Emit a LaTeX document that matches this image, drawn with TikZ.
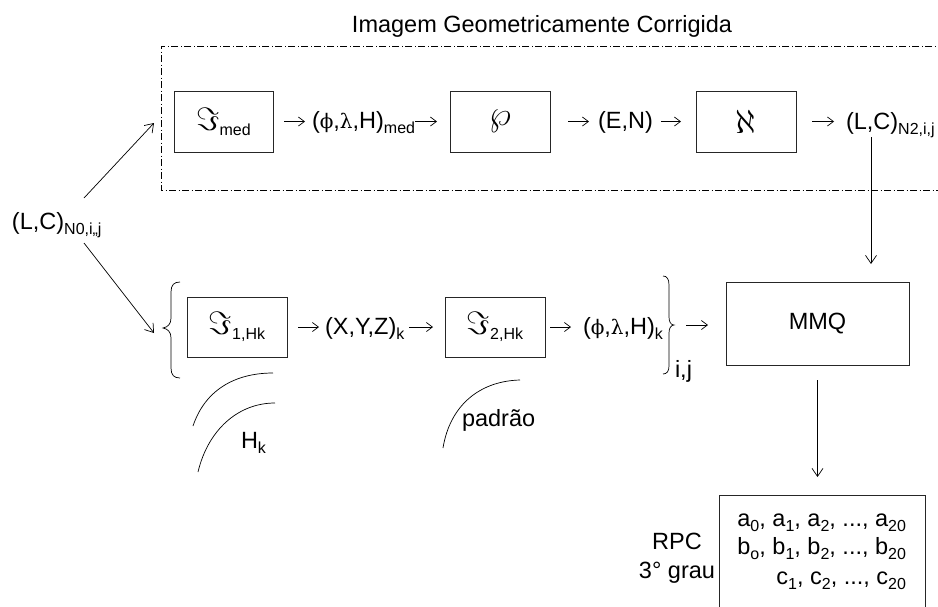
\documentclass[tikz,border=0pt]{standalone}
\usepackage{graphicx}
\usepackage{fontspec}
\setmainfont{Liberation Sans}
\newfontfamily\grkfont{DejaVu Serif}
\usetikzlibrary{arrows.meta}
\newcommand{\sbs}[1]{\raisebox{-5pt}{\fontsize{16}{16}\selectfont #1}}
\newcommand{\phig}{{\grkfont\fontsize{20}{24}\selectfont ϕ}}
\newcommand{\lamg}{{\grkfont\fontsize{20}{24}\selectfont λ}}
\newcommand{\bigIm}{\scalebox{1.3}{$\Im$}}
\newcommand{\bigwp}{\scalebox{1.4}{$\wp$}}
\newcommand{\bigaleph}{\scalebox{1.35}{$\aleph$}}
\begin{document}
\begin{tikzpicture}[x=1pt,y=-1pt,
  every node/.style={font=\fontsize{23.5}{28}\selectfont, inner sep=0pt, outer sep=0pt},
  bx/.style={draw=black!85, line width=0.9pt, minimum width=100pt, minimum height=61pt},
  tarr/.style={line width=0.7pt, -{Straight Barb[length=6pt,width=9pt]}},
  arr/.style={line width=0.7pt, -{Straight Barb[length=8pt,width=11pt]}},
  thin/.style={line width=0.7pt},
  lbl/.style={anchor=base west},
  dd/.style={line width=0.8pt, dash pattern=on 7pt off 2.5pt on 1pt off 2.5pt}]
\useasboundingbox (0,0) rectangle (938,606);

\node[anchor=base] (title) at (542,32) {Imagem Geometricamente Corrigida};
\draw[dd] (945,46) -- (161,46) -- (161,190) -- (945,190);

% top row
\node[bx, minimum width=99pt] (imed) at (223.5,121.5) {\bigIm\sbs{med}};
\node[lbl] (phimed) at (312,128.5) {(\phig,\lamg,H)\sbs{med}};
\node[bx] (wp) at (500,121.5) {\bigwp};
\node[lbl] (en) at (598,128.5) {(E,N)};
\node[bx] (al) at (746,121.5) {\bigaleph};
\node[lbl] (lc2) at (846,129.5) {(L,C)\sbs{N2,i,j}};

\draw[tarr, shorten <=11pt, shorten >=7pt] (imed.east) -- (phimed.west |- imed.east);
\draw[tarr, shorten >=13pt] (phimed.east |- wp.west) -- (wp.west);
\draw[tarr, shorten <=18pt, shorten >=9pt] (wp.east) -- (en.west |- wp.east);
\draw[tarr, shorten <=8pt, shorten >=15pt] (en.east |- al.west) -- (al.west);
\draw[tarr, shorten <=16pt, shorten >=12pt] (al.east) -- (lc2.west |- al.east);

\coordinate (vt) at (871,137);
\coordinate (vb) at (871,264);
\draw[arr] (vt) -- (vb);

% left input
\node[lbl] (lc0) at (12,229) {(L,C)\sbs{N0,i,,j}};
\coordinate (u1) at (84,198); \coordinate (u2) at (154,123);
\coordinate (d1) at (84,243); \coordinate (d2) at (154,333);
\draw[arr] (u1) -- (u2);
\draw[arr] (d1) -- (d2);

% left brace
\draw[thin] (180,282) .. controls (174,282) and (171,285) .. (171,292) -- (171,318)
  .. controls (171,324) and (168,327) .. (163,328)
  .. controls (168,329) and (171,332) .. (171,338) -- (171,368)
  .. controls (171,375) and (174,378) .. (180,378);

% bottom row
\node[bx, minimum height=60pt] (i1) at (237,327) {\bigIm\sbs{1,Hk}};
\node[lbl] (xyz) at (325,334) {(X,Y,Z)\sbs{k}};
\node[bx, minimum height=60pt] (i2) at (495,327) {\bigIm\sbs{2,Hk}};
\node[lbl] (phik) at (583,334) {(\phig,\lamg,H)\sbs{k}};
\draw[tarr, shorten <=11pt, shorten >=6pt] (i1.east) -- (xyz.west |- i1.east);
\draw[tarr, shorten <=5pt, shorten >=12pt] (xyz.east |- i2.west) -- (i2.west);
\draw[tarr, shorten <=5pt, shorten >=12pt] (i2.east) -- (phik.west |- i2.east);

% right brace
\draw[thin] (663,276) .. controls (667,276) and (669,279) .. (669,285) -- (669,317)
  .. controls (669,322) and (671,325) .. (674,325)
  .. controls (671,325) and (669,328) .. (669,333) -- (669,366)
  .. controls (669,371) and (667,374) .. (663,374);
\coordinate (rb) at (674,325);
\node[lbl] (ij) at (675,377) {i,j};

\node[bx, minimum width=183pt, minimum height=83pt] (mmq) at (817.5,323.5) {MMQ};
\draw[tarr, shorten <=12pt, shorten >=18pt] (rb) -- (mmq.west |- rb);

% RPC
\node[draw=black!85, line width=0.9pt, minimum width=206pt, minimum height=130pt, anchor=north west] (rpc) at (719,495) {};
\draw[arr, shorten <=15pt, shorten >=18pt] (mmq.south) -- (mmq.south |- rpc.north);
\node[anchor=base east] (ca) at (906,526) {a\sbs{0}, a\sbs{1}, a\sbs{2}, ..., a\sbs{20}};
\node[anchor=base east] (cb) at (906,554) {b\sbs{o}, b\sbs{1}, b\sbs{2}, ..., b\sbs{20}};
\node[anchor=base east] (cc) at (906,584) {c\sbs{1}, c\sbs{2}, ..., c\sbs{20}};
\node[anchor=base] (rpcl) at (677,549) {RPC};
\node[anchor=base] (grau) at (677,578) {3° grau};

% arcs
\draw[thin] (193,426) .. controls (205,390) and (235,373) .. (273,373);
\draw[thin] (198,472) .. controls (208,430) and (238,403) .. (275,403);
\node[lbl] (hk) at (241,448) {H\sbs{k}};
\draw[thin] (443,448) .. controls (450,405) and (480,381) .. (520,380);
\node[lbl] (pad) at (462,426) {padrão};
\end{tikzpicture}
\end{document}
